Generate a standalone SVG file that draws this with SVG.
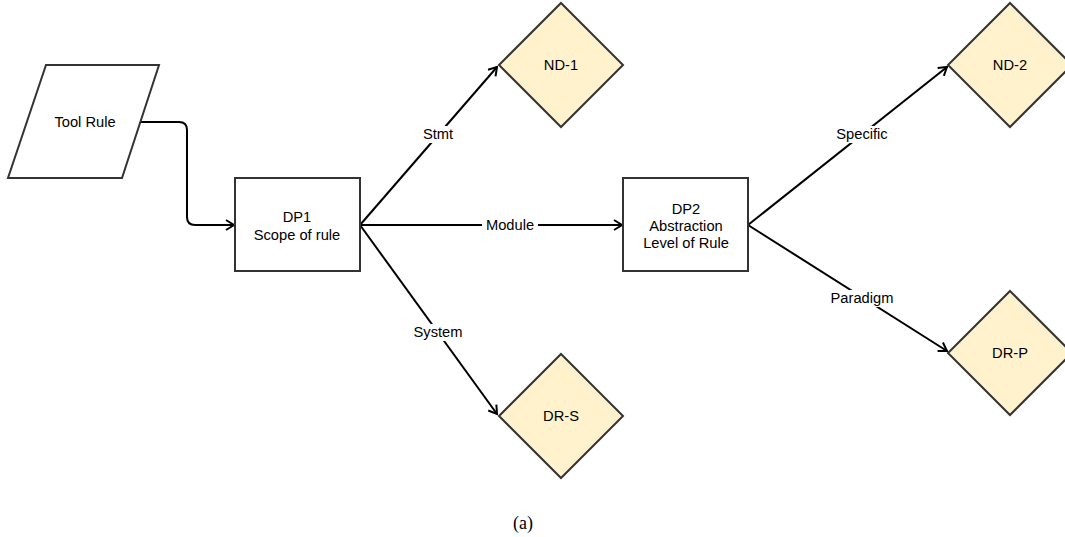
<svg xmlns="http://www.w3.org/2000/svg" width="1065" height="537" viewBox="0 0 1065 537">
<style>
.n{fill:#ffffff;stroke:#333333;stroke-width:2}
.d{fill:#fff2cc;stroke:#333333;stroke-width:2}
.e{fill:none;stroke:#000000;stroke-width:2;marker-end:url(#a)}
text{font-family:"Liberation Sans",Arial,sans-serif;font-size:14.7px;fill:#000;text-anchor:middle;dominant-baseline:central}
.lb{fill:#ffffff}
</style>
<defs>
<marker id="a" markerWidth="12" markerHeight="12" refX="10" refY="6" orient="auto" markerUnits="userSpaceOnUse">
<path d="M2,1 L10,6 L2,11" fill="none" stroke="#000" stroke-width="2"/>
</marker>
</defs>
<g id="edges">
<path class="e" d="M140,122 H179 Q187,122 187,130 V217 Q187,225 195,225 H234"/>
<path class="e" d="M360,225 L497,67"/>
<path class="e" d="M360,225 H622"/>
<path class="e" d="M360,225 L497,414"/>
<path class="e" d="M748,225 L947,67"/>
<path class="e" d="M748,225 L947,351"/>
<rect class="lb" x="419" y="126" width="39" height="17"/>
<text x="438" y="134">Stmt</text>
<rect class="lb" x="482" y="217" width="56" height="17"/>
<text x="510" y="225">Module</text>
<rect class="lb" x="410" y="324" width="56" height="17"/>
<text x="438" y="332">System</text>
<rect class="lb" x="830" y="126" width="64" height="17"/>
<text x="862" y="134">Specific</text>
<rect class="lb" x="826" y="290" width="72" height="17"/>
<text x="862" y="298">Paradigm</text>
</g>
<g id="tool-rule">
<polygon class="n" points="46,65 159,65 122,178 8,178"/>
<text x="85" y="122">Tool Rule</text>
</g>
<g id="dp1">
<rect class="n" x="235" y="178" width="125" height="93"/>
<text x="297" y="217">DP1</text>
<text x="297" y="235">Scope of rule</text>
</g>
<g id="nd1">
<polygon class="d" points="561,3 623,65 561,127 499,65"/>
<text x="561" y="65">ND-1</text>
</g>
<g id="drs">
<polygon class="d" points="561,354 623,416 561,478 499,416"/>
<text x="561" y="416">DR-S</text>
</g>
<g id="dp2">
<rect class="n" x="623" y="178" width="125" height="93"/>
<text x="686" y="209">DP2</text>
<text x="686" y="226">Abstraction</text>
<text x="686" y="243">Level of Rule</text>
</g>
<g id="nd2">
<polygon class="d" points="1010,3 1072,65 1010,127 948,65"/>
<text x="1010" y="65">ND-2</text>
</g>
<g id="drp">
<polygon class="d" points="1010,291 1072,353 1010,415 948,353"/>
<text x="1010" y="353">DR-P</text>
</g>
<text x="523" y="523" style="font-family:'Liberation Serif','Times New Roman',serif;font-size:18px">(a)</text>
</svg>
